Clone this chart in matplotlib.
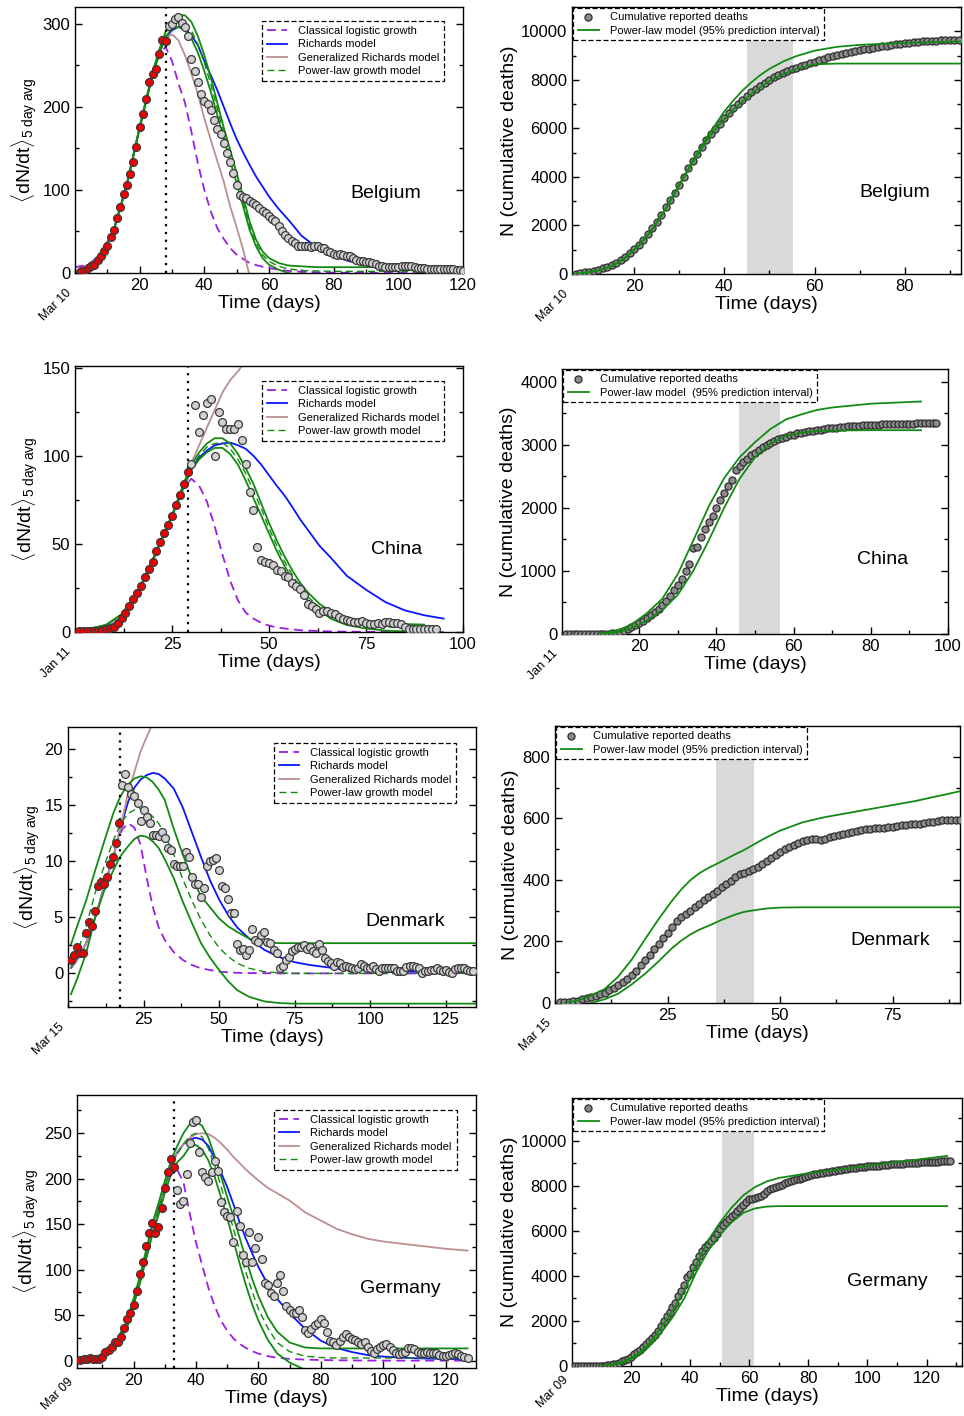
import numpy as np
import matplotlib
matplotlib.use('Agg')
import matplotlib.pyplot as plt
from matplotlib.ticker import MultipleLocator

plt.rcParams['font.family'] = ['Liberation Sans', 'DejaVu Sans']
plt.rcParams['mathtext.fontset'] = 'custom'
plt.rcParams['mathtext.rm'] = 'Liberation Sans'
plt.rcParams['mathtext.it'] = 'Liberation Sans:italic'
plt.rcParams['axes.linewidth'] = 1.0

nan = np.nan

# ---------------- Belgium ----------------
bel_fit = [3, 4, 6, 8, 10, 16, 21, 27, 33, 43, 52, 66, 79, 95, 106, 119, 134, 151, 176, 191,
           209, 230, 239, 245, 263, 280, 279]                       # days 2..28
bel_daily = [297, 300, 306, 308, 301, 296, 285, 257, 243, 230, 215, 207, 203, 196, 184, 173,
             167, 156, 144, 134, 120, 106, 94, 92, 90, 87, 84, 82, 78, 74, 72, 68, 65, 62, 56,
             51, 46, 42, 39, 36, 33, 32, 32, 33, 31, 33, 32, 30, 30, 27, 25, 23, 22, 23, 22,
             21, 20, 18, 16, 15, 14, 13, 13, 12, 11, 9, 8, 7, 7, 7, 7, 7, 8, 8, 8, 8, 7, 6,
             6, 6, 5, 5, 5, 5, 5, 5, 5, 5, 5, 4, 4, 3]                # days 29..120
bel_t = [0, 4, 8, 12, 16, 20, 24, 26, 28, 30, 32, 34, 36, 38, 40, 42, 44, 46, 48, 50, 52, 54,
         56, 58, 60, 63, 66, 70, 75, 80, 85, 90, 100, 110, 120]
bel_logi = [7, 10, 22, 52, 105, 175, 240, 262, 272, 255, 228, 205, 170, 132, 100, 74, 54, 41,
            30, 22, 17, 12, 9.5, 7.5, 6, 4, 2.5, 1.5, 0.8, 0.4, 0.2, 0.1, 0, 0, 0]
bel_rich = [2, 8, 21, 52, 106, 175, 240, 265, 283, 292, 296, 294, 286, 274, 255, 238, 220, 200,
            180, 161, 145, 130, 116, 104, 92, 77, 64, 45, 30, 20, 14, 10, 5, 3, 2]
bel_grm = [2, 8, 21, 52, 106, 175, 240, 265, 282, 287, 280, 262, 240, 215, 186, 160, 135, 110,
           80, 55, 28, -3, -30, nan, nan, nan, nan, nan, nan, nan, nan, nan, nan, nan, nan]
bel_pl_hi = [0, 7, 20, 52, 106, 176, 242, 268, 290, 303, 310, 310, 302, 285, 262, 235, 205, 175,
             148, 120, 92, 62, 40, 26, 18, 12, 9, 8, 7, 7, 7, 7, 7, 7, 7]
bel_pl_lo = [0, 6, 20, 52, 105, 174, 238, 262, 284, 294, 296, 292, 282, 265, 243, 218, 190, 162,
             135, 108, 80, 52, 32, 18, 10, 4, 0, -3, -5, -6, -7, -7, -7, -7, -7]
bel_pl_mid = [1, 6, 20, 52, 106, 175, 240, 265, 287, 299, 303, 301, 292, 275, 253, 227, 198, 168,
              141, 114, 86, 57, 36, 22, 14, 8, 5, 3, 2.5, 2, 2, 2, 2, 2, 2]
bel_cum = [20, 40, 65, 100, 140, 180, 230, 290, 360, 450, 560, 690, 850, 1020, 1200, 1420, 1650,
           1900, 2160, 2450, 2750, 3050, 3350, 3680, 4000, 4350, 4650, 4950, 5250, 5520, 5760,
           5980, 6200, 6420, 6620, 6820, 7000, 7160, 7320, 7480, 7620, 7760, 7880, 8000, 8100,
           8200, 8290, 8370, 8440, 8500, 8570, 8630, 8690, 8750, 8810, 8870, 8930, 8980, 9030,
           9070, 9110, 9150, 9190, 9230, 9260, 9290, 9320, 9350, 9380, 9400, 9430, 9460, 9480,
           9500, 9520, 9540, 9560, 9580, 9590, 9600, 9610, 9620, 9630, 9640, 9650, 9660]  # days 7..92
bel_pi_t = [6.5, 9, 12, 15, 18, 21, 24, 27, 30, 33, 36, 38, 40, 42, 44, 46, 48, 50, 53, 56, 60,
            65, 70, 80, 92.5]
bel_pi_hi = [0, 40, 150, 330, 680, 1180, 1850, 2700, 3700, 4650, 5600, 6150, 6700, 7150, 7550,
             7900, 8200, 8450, 8750, 8980, 9200, 9360, 9440, 9520, 9580]
bel_pi_lo = [0, 35, 140, 310, 650, 1150, 1820, 2680, 3650, 4600, 5480, 5950, 6380, 6780, 7100,
             7420, 7700, 7950, 8230, 8450, 8640, 8670, 8670, 8670, 8670]

# ---------------- China ----------------
chn_fit = [0.5, 0.5, 0.3, 0.5, 0.6, 0.8, 1, 1.5, 2, 3, 5, 8, 11, 15, 19, 22, 26, 31, 36, 40,
           46, 51, 56, 61, 66, 72, 78, 84, 91]                        # days 1..29
chn_daily = [95.6, 129, 113.6, 123, 130, 132, 100, 125, 119, 115, 115, 115, 118, 109, 95.6,
             79.5, 69, 48, 41, 40, 39, 38, 35, 34.5, 32, 31, 28, 26, 24.6, 21, 16, 15, 13, 11,
             12, 12, 11, 10, 8.5, 7.6, 6.6, 6.3, 5.7, 5.7, 6, 5.3, 4.7, 4.7, 5, 4.7, 5.7, 5.7,
             5.3, 5.3, 4.7, 2.8, 1.9, 1.5, 1.5, 1.5, 1.5, 1.5, 1.5, 1.5]   # days 30..93
chn_t = [0, 4, 8, 12, 16, 20, 24, 26, 28, 30, 32, 34, 36, 38, 40, 42, 44, 46, 48, 50, 52, 54,
         56, 58, 60, 63, 66, 70, 75, 80, 85, 90, 95]
chn_logi = [1, 1.5, 2.5, 8, 21, 40, 61, 71, 82, 87, 83, 74, 60, 44, 29, 18, 11, 7.6, 5.2, 3.6,
            2.6, 2, 1.5, 1, 0.8, 0.5, 0.3, 0.2, 0.1, 0, 0, 0, 0]
chn_rich = [0.5, 1, 2.5, 8, 21, 40, 61, 72, 84, 93, 99, 103, 106, 107, 107.5, 106, 104, 100, 95,
            89, 83, 77.5, 71, 64, 58, 49, 42, 32, 24, 17, 12.3, 9.5, 7.6]
chn_grm = [0.5, 1, 2.5, 8, 21, 40, 61, 72, 84, 96, 106, 116, 126, 136, 143, 148, 154, 160,
           nan, nan, nan, nan, nan, nan, nan, nan, nan, nan, nan, nan, nan, nan, nan]
chn_pl_hi = [1.5, 2, 4, 10, 22, 41, 61, 72, 84, 95, 102, 107, 110, 110, 107, 101, 93, 84, 73, 62,
             52, 43, 35, 28, 22.5, 16, 11.5, 8, 5.7, 5, 4.5, 4.2, nan]
chn_pl_lo = [1.5, 2, 4, 10, 22, 41, 61, 71, 82, 92, 98, 102, 104.5, 104.5, 101, 95, 86, 76, 66,
             56, 46, 37.5, 30, 23, 18, 12, 7.5, 4, 2, 0.8, 0.3, 0, nan]
chn_pl_mid = [1.5, 2, 4, 10, 22, 41, 61, 71.5, 83, 94, 100, 105, 107, 107.5, 104, 98, 90, 80, 70,
              59, 49, 40, 32.5, 25.5, 20, 14, 9.5, 6, 3.8, 2.8, 2.3, 2, nan]
chn_cum = [0, 0, 0, 0, 0, 0, 0, 0, 1, 2, 3, 5, 10, 20, 35, 55, 80, 105, 135, 170, 210, 250, 300,
           350, 400, 460, 530, 610, 690, 780, 870, 1000, 1110, 1370, 1385, 1530, 1660, 1780,
           1870, 2000, 2120, 2240, 2350, 2440, 2600, 2670, 2720, 2770, 2830, 2870, 2910, 2960,
           3000, 3030, 3060, 3090, 3110, 3130, 3150, 3160, 3180, 3190, 3200, 3210, 3220, 3230,
           3240, 3250, 3260, 3265, 3270, 3280, 3285, 3290, 3295, 3300, 3303, 3306, 3310, 3313,
           3316, 3320, 3322, 3325, 3327, 3329, 3331, 3333, 3334, 3335, 3336, 3337, 3338, 3339,
           3340, 3341, 3342]                                            # days 1..97
chn_pi_t = [10, 14, 18, 22, 26, 30, 34, 38, 42, 46, 50, 54, 58, 62, 66, 70, 80, 93]
chn_pi_hi = [10, 45, 150, 330, 560, 950, 1480, 2020, 2470, 2800, 3040, 3250, 3400, 3480, 3550,
             3590, 3650, 3685]
chn_pi_lo = [0, 20, 90, 210, 380, 620, 1000, 1480, 2000, 2460, 2800, 3020, 3140, 3190, 3215,
             3225, 3230, 3230]

# ---------------- Denmark ----------------
dnk_fit = [1.2, 1.6, 2.4, 1.8, 1.8, 3.6, 4.6, 4.2, 5.6, 7.8, 8.2, 8.0, 8.6, 9.8, 10.4, 11.6,
           13.4]                                                         # days 1..17
dnk_daily = [16.8, 17.8, 16.6, 16.0, 15.8, 15.2, 13.6, 14.6, 14.0, 13.4, 12.4, 12.4, 12.3, 12.6,
             12.1, 11.2, 11.0, 9.8, 9.6, 9.6, 9.6, 10.8, 10.4, 8.6, 8.0, 8.0, 6.8, 7.6, 9.6,
             10.0, 10.1, 10.3, 9.2, 7.8, 7.6, 6.6, 5.4, 5.4, 2.6, 2.1, 2.2, 1.6, 2.1, 4.0, 3.0,
             2.8, 3.4, 3.7, 2.8, 2.7, 2.1, 1.8, 0.45, 0.7, 1.2, 1.5, 2.0, 2.2, 2.4, 2.4, 2.5,
             2.2, 2.4, 2.0, 1.8, 2.6, 2.1, 1.4, 1.1, 0.9, 0.7, 1.0, 0.9, 0.6, 0.7, 0.6, 0.45,
             0.35, 0.5, 0.8, 0.65, 0.5, 0.45, 0.7, 0.35, 0.25, 0.45, 0.45, 0.45, 0.45, 0.45,
             0.25, 0.25, 0.25, 0.6, 0.65, 0.65, 0.6, 0.45, 0.0, 0.25, 0.25, 0.3, 0.3, 0.45, 0.3,
             0.25, 0.3, 0.15, 0.0, 0.35, 0.45, 0.45, 0.45, 0.3, 0.25, 0.25]    # days 18..134
dnk_t = [1, 3, 6, 9, 12, 15, 17, 18, 20, 22, 24, 26, 28, 30, 32, 35, 38, 41, 44, 47, 50, 53, 56,
         60, 65, 70, 75, 80, 90, 100, 115, 135]
dnk_logi = [0.5, 1.2, 2.7, 5.0, 7.8, 10.4, 12.3, 12.9, 13.4, 13.0, 11.5, 8.6, 6.0, 4.1, 3.0, 1.9,
            1.2, 0.75, 0.45, 0.3, 0.15, 0.1, 0.05, 0.03, 0.02, 0, 0, 0, 0, 0, 0, 0]
dnk_rich = [0.5, 1.2, 2.7, 5.0, 7.8, 10.4, 12.6, 13.6, 15.4, 16.6, 17.3, 17.7, 17.9, 17.8, 17.4,
            16.5, 14.8, 12.6, 10.4, 8.3, 6.6, 5.2, 4.1, 3.1, 2.1, 1.45, 1.0, 0.75, 0.4, 0.25,
            0.15, 0.1]
dnk_grm = [0.5, 1.2, 2.7, 5.0, 7.8, 10.4, 12.6, 13.8, 16.3, 18.0, 19.8, 21.1, 22.3, nan, nan,
           nan, nan, nan, nan, nan, nan, nan, nan, nan, nan, nan, nan, nan, nan, nan, nan, nan]
dnk_pl_hi = [2.6, 4.2, 6.5, 9.2, 11.8, 14.3, 15.6, 16.1, 16.9, 17.4, 17.6, 17.5, 17.1, 16.4,
             15.5, 12.9, 10.6, 8.5, 6.9, 5.9, 4.9, 4.2, 3.7, 3.1, 2.8, 2.7, 2.7, 2.7, 2.7, 2.7,
             2.7, 2.7]
dnk_pl_lo = [-1.85, -0.5, 1.8, 5.0, 7.4, 9.2, 10.3, 10.7, 11.4, 12.0, 12.3, 12.2, 11.8, 11.2,
             10.2, 8.5, 6.4, 4.5, 2.7, 1.4, 0.3, -0.7, -1.5, -2.1, -2.5, -2.65, -2.7, -2.7, -2.7,
             -2.7, -2.7, -2.7]
dnk_pl_mid = [0.45, 1.8, 4.2, 7.2, 9.6, 11.9, 13.1, 13.6, 14.3, 14.6, 14.7, 14.5, 14.0, 13.4,
              12.4, 10.6, 8.4, 6.5, 4.8, 3.4, 2.3, 1.5, 0.9, 0.45, 0.15, 0.05, 0, 0, 0, 0, 0, 0]
dnk_cum = [2, 3, 4, 6, 8, 12, 15, 19, 24, 29, 34, 41, 49, 58, 68, 79, 91, 105, 122, 139, 157,
           175, 193, 210, 228, 248, 265, 278, 290, 300, 311, 322, 334, 344, 355, 365, 376, 387,
           397, 408, 418, 421, 428, 434, 442, 451, 460, 470, 481, 492, 500, 508, 514, 520, 526,
           530, 533, 533, 528, 533, 540, 543, 546, 550, 553, 556, 560, 563, 565, 566, 567, 568,
           569, 571, 573, 575, 577, 578, 580, 581, 583, 585, 587, 589, 591, 593, 594, 595, 596,
           596]                                                          # days 1..90
dnk_pi_t = [2, 5, 8, 11, 14, 17, 20, 23, 26, 28, 30, 32, 34, 37, 40, 42, 45, 47, 50, 55, 60, 70,
            80, 90]
dnk_pi_hi = [0, 8, 24, 45, 85, 140, 207, 272, 332, 368, 398, 421, 438, 460, 483, 497, 522, 538,
             560, 587, 604, 630, 656, 688]
dnk_pi_lo = [nan, nan, 0, 12, 30, 60, 95, 135, 178, 202, 222, 238, 250, 270, 287, 296, 303, 307,
             310, 311, 311, 311, 311, 311]

# ---------------- Germany ----------------
deu_fit = [0.7, 1.5, 2.2, 2.6, 2.2, 2.2, 2.2, 4.4, 9.9, 11.7, 15.4, 20.8, 20.8, 25.6, 36.5, 45.3,
           52.6, 61, 76.8, 95.8, 109, 126, 140, 151, 140, 147, 168, 190, 207, 222, 213]  # days 3..33
deu_daily = [188, 172.5, 176, 205, 239, 262, 265, 229, 207, 202, 197, 207, 219, 209, 174, 163,
             159, 158, 130, 165, 148, 116, 108.5, 141, 108.5, 124, 136, 112, 85, 83, 74.6, 71,
             85.5, 94, 77, 60, 55.6, 52.6, 52.6, 55.6, 48, 33.6, 30.7, 34.4, 39, 41, 45.3, 41,
             31.8, 22, 20.8, 17.2, 22, 26.3, 28.9, 26.3, 23.4, 22.7, 20.8, 18.3, 20.8, 15.4, 11,
             8, 12.4, 15.4, 17.2, 18.3, 15.4, 11.7, 8, 7, 8, 10, 13.5, 13.5, 12.4, 10, 8, 8, 10,
             8, 8.8, 8, 6.2, 5.1, 5.1, 6.2, 7.3, 8, 7, 5.1, 3.7, 2.6]        # days 34..127
deu_t = [2, 6, 10, 14, 18, 22, 26, 28, 30, 32, 34, 36, 38, 40, 42, 44, 46, 48, 50, 52, 54, 56,
         58, 60, 63, 66, 70, 75, 80, 85, 90, 95, 100, 105, 110, 115, 120, 127]
deu_logi = [0.5, 1.5, 6, 17, 40, 87, 143, 165, 188, 205, 210, 196, 162, 130, 105, 80, 60, 44,
            33, 24.5, 18.5, 14, 10.5, 7.8, 5, 3.3, 2, 1.2, 0.8, 0.5, 0.3, 0.2, 0.1, 0.1, 0.1,
            0.1, 0.1, 0.1]
deu_rich = [0.5, 1.5, 6, 17, 40, 87, 143, 167, 192, 214, 229, 238, 243, 245, 243, 236, 222, 207,
            191, 172, 152, 134, 118, 103, 84, 68, 52, 35, 22, 14, 9.5, 6.2, 4.5, 3.5, 2.8, 2.3,
            2.0, 1.8]
deu_grm = [0.5, 1.5, 6, 17, 40, 87, 143, 167, 192, 214, 228, 238, 245, 249, 250, 249, 245, 239,
           232, 224, 217, 210, 204, 198, 190, 184, 176, 163, 154, 145, 139, 134, 131, 129, 127,
           125, 123, 121]
deu_pl_hi = [0.5, 2, 7, 19, 44, 92, 150, 173, 197, 220, 236, 250, 260, 263, 258, 245, 225, 203,
             180, 158, 135, 112, 90, 71, 48, 32, 20, 14.5, 13.5, 13.5, 13.5, 13.5, 13.5, 13.5,
             13.5, 13.5, 13.5, 13.5]
deu_pl_lo = [0.3, 1.5, 5, 15, 37, 84, 138, 160, 184, 205, 218, 225, 235, 237, 232, 220, 202, 180,
             157, 132, 107, 83, 62, 44, 23, 8, -2, -10, -15, -18, -20, -20, -20, -20, -20, -20,
             -20, -20]
deu_pl_mid = [0.4, 1.8, 6, 17, 40, 88, 144, 166, 190, 212, 227, 238, 247, 250, 246, 233, 214,
              192, 168, 145, 121, 97, 76, 57, 36, 20, 10, 5, 3.5, 3, 3, 3, 3, 3, 3, 3, 3, 3]
deu_cum = [0, 0, 0, 0, 2, 3, 5, 7, 9, 11, 14, 20, 30, 45, 70, 100, 130, 210, 270, 330, 400, 520,
           610, 720, 850, 980, 1110, 1240, 1380, 1560, 1780, 1990, 2200, 2410, 2600, 2800, 3100,
           3350, 3600, 3950, 4100, 4400, 4640, 4900, 5100, 5300, 5420, 5550, 5700, 5850, 6080,
           6250, 6400, 6520, 6650, 6750, 6880, 7020, 7170, 7300, 7400, 7430, 7460, 7500, 7550,
           7650, 7760, 7840, 7900, 7950, 8000, 8050, 8120, 8180, 8220, 8250, 8290, 8320, 8360,
           8400, 8450, 8480, 8510, 8540, 8560, 8590, 8610, 8630, 8650, 8670, 8700, 8720, 8740,
           8760, 8780, 8800, 8810, 8830, 8840, 8850, 8860, 8870, 8880, 8890, 8900, 8915, 8930,
           8940, 8950, 8960, 8970, 8980, 8990, 9000, 9010, 9020, 9030, 9035, 9040, 9045, 9050,
           9055, 9060, 9070, 9080, 9090, 9100, 9105, 9110]                 # days 0..128
deu_pi_t = [10, 14, 18, 22, 26, 30, 34, 38, 42, 46, 50, 54, 58, 62, 66, 70, 80, 93, 104, 116, 127]
deu_pi_hi = [0, 70, 220, 520, 980, 1680, 2450, 3350, 4480, 5560, 6350, 7030, 7580, 7950, 8200,
             8350, 8560, 8765, 8960, 9150, 9330]
deu_pi_lo = [0, 50, 180, 450, 860, 1450, 2150, 3000, 4150, 5100, 5830, 6380, 6800, 7000, 7080,
             7100, 7100, 7100, 7100, 7100, 7100]

PURPLE = '#9a1ee6'
BLUE = '#0a14ff'
BROWN = '#bc8f8f'
GREEN = '#128a12'

W, H = 964, 1416
fig = plt.figure(figsize=(W / 100, H / 100), dpi=100)


def add_ax(l, t, r, b):
    return fig.add_axes([l / W, 1 - b / H, (r - l) / W, (b - t) / H])


def style(ax, xticks, xminor, ymajor, yminor, date, date_dy=-13):
    ax.set_xticks(xticks)
    ax.xaxis.set_minor_locator(MultipleLocator(xminor))
    ax.yaxis.set_major_locator(MultipleLocator(ymajor))
    ax.yaxis.set_minor_locator(MultipleLocator(yminor))
    ax.tick_params(which='both', direction='in', right=True, top=False, labelsize=12, width=1)
    ax.tick_params(which='major', length=5)
    ax.tick_params(which='minor', length=3)
    ax.set_xlabel('Time (days)', fontsize=14, labelpad=1.5)
    ax.annotate(date, xy=(0, 0), xycoords='axes fraction', xytext=(-4, date_dy),
                textcoords='offset points', rotation=45, ha='right', va='center',
                rotation_mode='anchor', fontsize=9)


def daily_panel(ax, fit_start, fit, day_start, daily, t, logi, rich, grm, lo, mid, hi, cut,
                name, name_xy, leg_xy):
    ax.plot(t, logi, color=PURPLE, ls=(0, (5, 3)), lw=1.3, label='Classical logistic growth')
    ax.plot(t, rich, color=BLUE, lw=1.3, label='Richards model')
    ax.plot(t, grm, color=BROWN, lw=1.3, label='Generalized Richards model')
    ax.plot(t, mid, color=GREEN, ls=(0, (5, 3)), lw=1.0, label='Power-law growth model')
    ax.plot(t, lo, color=GREEN, lw=1.3)
    ax.plot(t, hi, color=GREEN, lw=1.3)
    ax.axvline(cut, color='black', ls=(0, (1, 2.5)), lw=1.6)
    ax.scatter(np.arange(day_start, day_start + len(daily)), daily, s=32, c='#d0d0d0',
               edgecolors='#3a3a3a', linewidths=0.9, zorder=5)
    ax.scatter(np.arange(fit_start, fit_start + len(fit)), fit, s=32, c='#ee0000',
               edgecolors='#3a3a3a', linewidths=0.9, zorder=6)
    ax.set_ylabel(r'$\langle\mathrm{dN/dt}\rangle_{\mathrm{5\ day\ avg}}$', fontsize=14, labelpad=2)
    ax.text(name_xy[0], name_xy[1], name, transform=ax.transAxes, fontsize=14,
            ha='center', va='center')
    leg = ax.legend(loc='upper right', bbox_to_anchor=leg_xy, borderaxespad=0, fontsize=8,
                    fancybox=False, edgecolor='black', framealpha=1, handlelength=1.8,
                    borderpad=0.45, labelspacing=0.3, handletextpad=1.0)
    leg.get_frame().set_linestyle((0, (4, 2)))
    leg.get_frame().set_linewidth(0.9)


def cum_panel(ax, day_start, cum, pi_t, lo, hi, band, name, name_xy, pi_label):
    ax.axvspan(band[0], band[1], color='#d9d9d9', lw=0, zorder=0)
    ax.scatter(np.arange(day_start, day_start + len(cum)), cum, s=26, c='#8a8a8a',
               edgecolors='#2e2e2e', linewidths=0.9, zorder=3, label='Cumulative reported deaths')
    ax.plot(pi_t, hi, color=GREEN, lw=1.3, zorder=4, label=pi_label)
    ax.plot(pi_t, lo, color=GREEN, lw=1.3, zorder=4)
    ax.set_ylabel('N (cumulative deaths)', fontsize=14, labelpad=2)
    ax.text(name_xy[0], name_xy[1], name, transform=ax.transAxes, fontsize=14,
            ha='center', va='center')
    leg = ax.legend(loc='upper left', bbox_to_anchor=(0.003, 0.997), borderaxespad=0,
                    fontsize=8, fancybox=False, edgecolor='black', framealpha=1,
                    handlelength=1.9, borderpad=0.4, labelspacing=0.3, handletextpad=1.0,
                    scatterpoints=1)
    leg.get_frame().set_linestyle((0, (4, 2)))
    leg.get_frame().set_linewidth(0.9)


# Row 1: Belgium
ax = add_ax(75, 7, 463, 273)
daily_panel(ax, 2, bel_fit, 29, bel_daily, bel_t, bel_logi, bel_rich, bel_grm,
            bel_pl_lo, bel_pl_mid, bel_pl_hi, 28, 'Belgium', (0.80, 0.30), (0.951, 0.947))
ax.set_xlim(0, 120)
ax.set_ylim(0, 320)
style(ax, [20, 40, 60, 80, 100, 120], 10, 100, 50, 'Mar 10')

ax = add_ax(572, 7, 961, 274)
cum_panel(ax, 7, bel_cum, bel_pi_t, bel_pi_lo, bel_pi_hi, (45, 55.3), 'Belgium', (0.83, 0.305),
          'Power-law model (95% prediction interval)')
ax.set_xlim(6.2, 92.5)
ax.set_ylim(0, 11000)
style(ax, [20, 40, 60, 80], 10, 2000, 1000, 'Mar 10')

# Row 2: China
ax = add_ax(75, 366, 463, 632)
daily_panel(ax, 1, chn_fit, 30, chn_daily, chn_t, chn_logi, chn_rich, chn_grm,
            chn_pl_lo, chn_pl_mid, chn_pl_hi, 29, 'China', (0.83, 0.31), (0.951, 0.944))
ax.set_xlim(0, 100)
ax.set_ylim(0, 151)
style(ax, [25, 50, 75, 100], 12.5, 50, 25, 'Jan 11')

ax = add_ax(562, 369, 948, 634)
cum_panel(ax, 1, chn_cum, chn_pi_t, chn_pi_lo, chn_pi_hi, (45.8, 56.4), 'China', (0.83, 0.28),
          'Power-law model  (95% prediction interval)')
ax.set_xlim(0, 100)
ax.set_ylim(0, 4200)
style(ax, [20, 40, 60, 80, 100], 10, 1000, 500, 'Jan 11')

# Row 3: Denmark
ax = add_ax(68, 727, 476, 1007)
daily_panel(ax, 1, dnk_fit, 18, dnk_daily, dnk_t, dnk_logi, dnk_rich, dnk_grm,
            dnk_pl_lo, dnk_pl_mid, dnk_pl_hi, 17.3, 'Denmark', (0.826, 0.307), (0.951, 0.943))
ax.set_xlim(0, 135)
ax.set_ylim(-3, 22)
style(ax, [25, 50, 75, 100, 125], 12.5, 5, 2.5, 'Mar 15')

ax = add_ax(555, 726, 960, 1003)
cum_panel(ax, 1, dnk_cum, dnk_pi_t, dnk_pi_lo, dnk_pi_hi, (35.8, 44.2), 'Denmark', (0.827, 0.224),
          'Power-law model (95% prediction interval)')
ax.set_xlim(0, 90)
ax.set_ylim(0, 900)
style(ax, [25, 50, 75], 12.5, 200, 100, 'Mar 15')

# Row 4: Germany
ax = add_ax(77, 1095, 476, 1368)
daily_panel(ax, 3, deu_fit, 34, deu_daily, deu_t, deu_logi, deu_rich, deu_grm,
            deu_pl_lo, deu_pl_mid, deu_pl_hi, 33, 'Germany', (0.81, 0.293), (0.952, 0.945))
ax.set_xlim(1.9, 129.7)
ax.set_ylim(-8, 292)
style(ax, [20, 40, 60, 80, 100, 120], 10, 50, 25, 'Mar 09', date_dy=-9)

ax = add_ax(572, 1098, 962, 1366)
cum_panel(ax, 0, deu_cum, deu_pi_t, deu_pi_lo, deu_pi_hi, (50.7, 61.6), 'Germany', (0.808, 0.317),
          'Power-law model (95% prediction interval)')
ax.set_xlim(0, 132)
ax.set_ylim(0, 11900)
style(ax, [20, 40, 60, 80, 100, 120], 10, 2000, 1000, 'Mar 09', date_dy=-9)

fig.savefig('out.png', dpi=100)
